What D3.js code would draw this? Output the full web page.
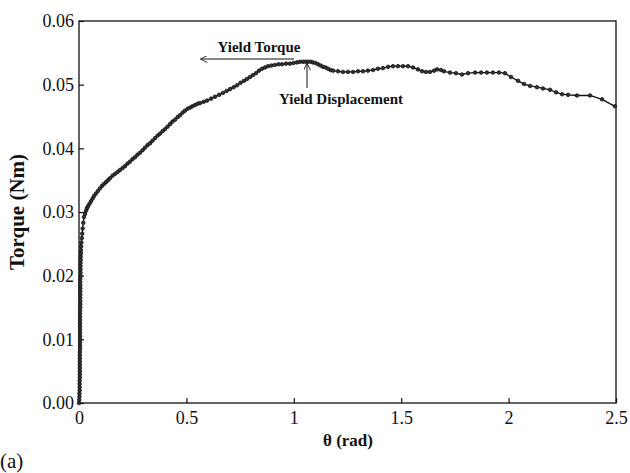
<!DOCTYPE html>
<html>
<head>
<meta charset="utf-8">
<script src="https://cdn.jsdelivr.net/npm/d3@7"></script>
<style>
  body { margin: 0; background: #fff; }
  svg text { font-family: "Liberation Serif", "DejaVu Serif", serif; fill: #111; }
</style>
</head>
<body>
<svg id="chart" width="630" height="473"></svg>
<script>
// theta (rad)
var theta = [
  // steep start along the axis
  0.000, 0.001, 0.002, 0.002, 0.003, 0.003, 0.003, 0.003, 0.004, 0.004,
  0.004, 0.004, 0.004, 0.004, 0.004, 0.004, 0.004, 0.005, 0.005, 0.005,
  0.005, 0.005, 0.005, 0.005, 0.005, 0.005, 0.005, 0.005, 0.005, 0.005,
  0.006, 0.006, 0.006, 0.006, 0.006, 0.006, 0.006, 0.006, 0.006, 0.006,
  0.007, 0.007, 0.007, 0.007, 0.007, 0.008, 0.008, 0.009, 0.009,
  0.010, 0.011, 0.013, 0.015, 0.017, 0.020,
  // knee and hardening
  0.023, 0.028, 0.033, 0.037, 0.042, 0.049, 0.056, 0.063, 0.070, 0.079,
  0.088, 0.097, 0.107, 0.116, 0.126, 0.135, 0.144, 0.156, 0.168, 0.180,
  0.191, 0.203, 0.214, 0.226, 0.237, 0.249, 0.261, 0.272, 0.284, 0.296,
  0.307, 0.319, 0.331, 0.342, 0.354, 0.366, 0.377, 0.389, 0.400, 0.412,
  0.424, 0.435, 0.447, 0.459, 0.470, 0.482, 0.493, 0.505, 0.517, 0.528,
  0.540, 0.552, 0.563, 0.580, 0.596, 0.615, 0.633, 0.652, 0.670, 0.687,
  0.703, 0.720, 0.736, 0.752, 0.768, 0.782, 0.796, 0.810, 0.824, 0.838,
  0.852, 0.866, 0.880, 0.896, 0.912, 0.929, 0.945, 0.964, 0.982, 0.999,
  1.015, 1.029, 1.043, 1.055, 1.066, 1.078, 1.089, 1.101, 1.113, 1.125,
  1.136, 1.148, 1.159, 1.171, 1.183,
  // plateau and softening
  1.206, 1.229, 1.252, 1.276, 1.299, 1.322, 1.345, 1.369,
  1.392, 1.415, 1.439, 1.462, 1.485, 1.508, 1.532, 1.555, 1.578, 1.597,
  1.615, 1.634, 1.653, 1.667, 1.685, 1.699, 1.727, 1.755, 1.783, 1.811,
  1.844, 1.872, 1.899, 1.927, 1.955, 1.983, 2.011, 2.044, 2.072, 2.100,
  2.132, 2.160, 2.193, 2.221, 2.249, 2.277, 2.318, 2.379, 2.435, 2.495
];
// torque (Nm)
var torque = [
  0.0000, 0.0005, 0.0010, 0.0015, 0.0020, 0.0025, 0.0030, 0.0035, 0.0040, 0.0045,
  0.0050, 0.0055, 0.0060, 0.0065, 0.0070, 0.0075, 0.0080, 0.0085, 0.0090, 0.0095,
  0.0100, 0.0105, 0.0110, 0.0115, 0.0120, 0.0125, 0.0130, 0.0135, 0.0140, 0.0145,
  0.0150, 0.0155, 0.0160, 0.0165, 0.0170, 0.0175, 0.0180, 0.0185, 0.0190, 0.0195,
  0.0200, 0.0205, 0.0210, 0.0215, 0.0220, 0.0225, 0.0230, 0.0235, 0.0240,
  0.0246, 0.0252, 0.0259, 0.0266, 0.0274, 0.0283,
  0.0292, 0.0297, 0.0302, 0.0306, 0.0309, 0.0313, 0.0317, 0.0321, 0.0325, 0.0329,
  0.0333, 0.0337, 0.0341, 0.0344, 0.0347, 0.0350, 0.0353, 0.0357, 0.0360, 0.0363,
  0.0366, 0.0369, 0.0372, 0.0376, 0.0379, 0.0383, 0.0386, 0.0390, 0.0393, 0.0397,
  0.0401, 0.0405, 0.0408, 0.0412, 0.0416, 0.0420, 0.0423, 0.0427, 0.0430, 0.0434,
  0.0438, 0.0442, 0.0445, 0.0449, 0.0452, 0.0456, 0.0459, 0.0462, 0.0464, 0.0466,
  0.0468, 0.0470, 0.0471, 0.0473, 0.0475, 0.0478, 0.0481, 0.0484, 0.0487, 0.0490,
  0.0493, 0.0496, 0.0499, 0.0503, 0.0506, 0.0509, 0.0512, 0.0515, 0.0518, 0.0522,
  0.0525, 0.0527, 0.0529, 0.0530, 0.0531, 0.0532, 0.0532, 0.0533, 0.0533, 0.0534,
  0.0535, 0.0536, 0.0536, 0.0536, 0.0536, 0.0536, 0.0535, 0.0534, 0.0532, 0.0530,
  0.0528, 0.0527, 0.0525, 0.0523, 0.0522,
  0.0521, 0.0520, 0.0520, 0.0520, 0.0521, 0.0521, 0.0522, 0.0523,
  0.0525, 0.0526, 0.0528, 0.0529, 0.0529, 0.0529, 0.0529, 0.0527, 0.0524, 0.0521,
  0.0520, 0.0520, 0.0522, 0.0524, 0.0523, 0.0521, 0.0519, 0.0518, 0.0516, 0.0518,
  0.0519, 0.0519, 0.0519, 0.0519, 0.0519, 0.0518, 0.0512, 0.0506, 0.0501, 0.0498,
  0.0496, 0.0494, 0.0492, 0.0488, 0.0485, 0.0484, 0.0483, 0.0483, 0.0477, 0.0466
];
var xTicks = [0, 0.5, 1, 1.5, 2, 2.5];
var xTickLabels = ["0", "0.5", "1", "1.5", "2", "2.5"];
var yTicks = [0, 0.01, 0.02, 0.03, 0.04, 0.05, 0.06];

var points = theta.map((t, i) => ({ x: t, y: torque[i] }));

var svg = d3.select('#chart');
var plotLeft = 79, plotRight = 616, plotTop = 21, plotBottom = 403;

var x = d3.scaleLinear().domain([0, 2.5]).range([plotLeft, plotRight]);
var y = d3.scaleLinear().domain([0, 0.06]).range([plotBottom, plotTop]);

// frame
svg.append("rect")
    .attr("x", plotLeft)
    .attr("y", plotTop)
    .attr("width", plotRight - plotLeft)
    .attr("height", plotBottom - plotTop)
    .attr("style", "fill:none;stroke:#111;stroke-width:1.3;");

// axes with inward ticks
var xAxis = svg.append("g")
    .attr("transform", "translate(0," + plotBottom + ")")
    .call(d3.axisBottom(x).tickValues(xTicks).tickFormat((d, i) => xTickLabels[i]).tickSize(-5).tickPadding(8));
var yAxis = svg.append("g")
    .attr("transform", "translate(" + plotLeft + ",0)")
    .call(d3.axisLeft(y).tickValues(yTicks).tickFormat(d3.format(".2f")).tickSize(-5).tickPadding(5));

[xAxis, yAxis].forEach(g => {
    g.select(".domain").remove();
    g.selectAll("line").attr("stroke", "#111").attr("stroke-width", 1.2);
    g.selectAll("text").attr("font-size", 18).attr("fill", "#111");
});

// curve
svg.append("path")
    .datum(points)
    .attr("d", d3.line().x(d => x(d.x)).y(d => y(d.y)))
    .attr("style", "fill:none;stroke:#111;stroke-width:1.3;");

svg.selectAll()
    .data(points)
    .enter().append("circle")
    .attr("r", 1.8)
    .attr("cx", d => x(d.x))
    .attr("cy", d => y(d.y))
    .attr("style", "fill:#333;stroke:#111;stroke-width:0.8;");

// annotations
var defs = svg.append("defs");
defs.append("marker")
    .attr("id", "arrow")
    .attr("viewBox", "0 0 10 10")
    .attr("refX", 9)
    .attr("refY", 5)
    .attr("markerWidth", 9)
    .attr("markerHeight", 7)
    .attr("markerUnits", "userSpaceOnUse")
    .attr("orient", "auto")
    .append("path")
    .attr("d", "M0,0 L10,5 L0,10")
    .attr("style", "fill:none;stroke:#111;stroke-width:1.2;");

svg.append("line")
    .attr("x1", 294).attr("y1", 59).attr("x2", 201).attr("y2", 59)
    .attr("marker-end", "url(#arrow)")
    .attr("style", "stroke:#111;stroke-width:1;");
svg.append("text")
    .attr("x", 259).attr("y", 52)
    .attr("text-anchor", "middle")
    .attr("font-size", 15).attr("font-weight", "bold")
    .text("Yield Torque");

svg.append("line")
    .attr("x1", 307).attr("y1", 88).attr("x2", 307).attr("y2", 64)
    .attr("marker-end", "url(#arrow)")
    .attr("style", "stroke:#111;stroke-width:1;");
svg.append("text")
    .attr("x", 341).attr("y", 104)
    .attr("text-anchor", "middle")
    .attr("font-size", 15).attr("font-weight", "bold")
    .text("Yield Displacement");

// axis titles
svg.append("text")
    .attr("x", 348).attr("y", 446)
    .attr("text-anchor", "middle")
    .attr("font-size", 17).attr("font-weight", "bold")
    .text("θ (rad)");
svg.append("text")
    .attr("transform", "translate(24," + ((plotTop + plotBottom) / 2) + ") rotate(-90)")
    .attr("text-anchor", "middle")
    .attr("font-size", 21).attr("font-weight", "bold")
    .text("Torque (Nm)");
svg.append("text")
    .attr("x", 0).attr("y", 468)
    .attr("font-size", 21)
    .text("(a)");
</script>
</body>
</html>
